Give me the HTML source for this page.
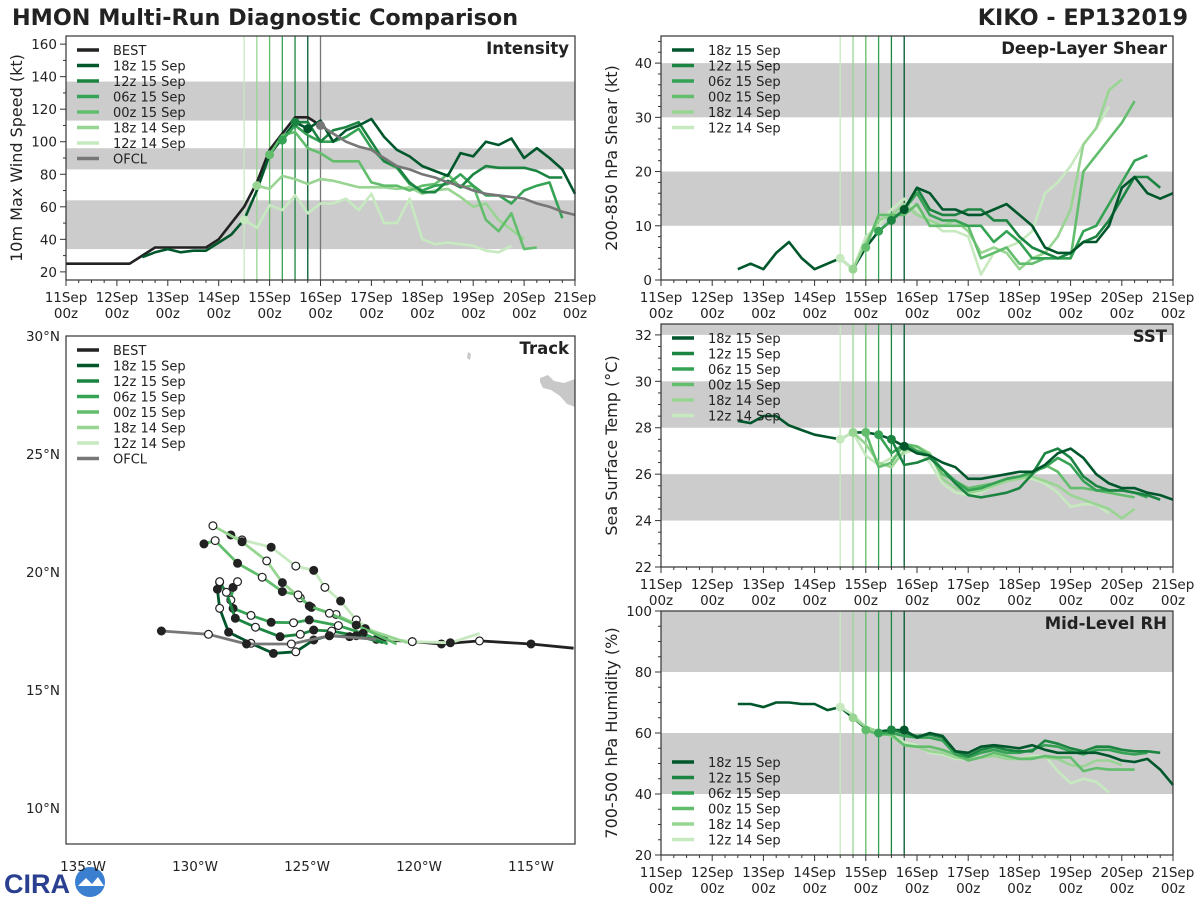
<!DOCTYPE html>
<html><head><meta charset="utf-8"><title>HMON Multi-Run Diagnostic Comparison</title>
<style>
html,body{margin:0;padding:0;background:#fff;}
svg{display:block;font-family:"DejaVu Sans","Liberation Sans",sans-serif;}
</style></head>
<body>
<svg id="chart" width="1200" height="900" viewBox="0 0 1200 900" xmlns="http://www.w3.org/2000/svg">
<text x="12" y="25" font-size="22.3" font-weight="bold" fill="#222">HMON Multi-Run Diagnostic Comparison</text>
<text x="1188" y="25" font-size="22.3" font-weight="bold" fill="#222" text-anchor="end">KIKO - EP132019</text>
<g>
<text x="4" y="893" font-size="27" font-weight="bold" fill="#2a3f8f" font-family="Liberation Sans, sans-serif">CIRA</text>
<circle cx="90" cy="882" r="15" fill="#3a7fd0"/>
<path d="M78 886 L86 878 L92 884 L98 877 L104 886 Z" fill="#fff"/>
</g>
</svg>
<script>
// ---------- DATA ----------
const runLabels = ["18z 15 Sep","12z 15 Sep","06z 15 Sep","00z 15 Sep","18z 14 Sep","12z 14 Sep"];
const runStarts = [4.75,4.5,4.25,4.0,3.75,3.5]; // days since 11Sep 00z
const dayLabels = ["11Sep","12Sep","13Sep","14Sep","15Sep","16Sep","17Sep","18Sep","19Sep","20Sep","21Sep"];
const historyStart = 1.5;
const bestStart = 0;
const ofclStart = 5;

const intBest = [25,25,25,25,25,25,30,35,35,35,35,35,40,50,60,75,95,105,115,115,110];
const intOfcl = [110,105,100,97,95,90,85,83,80,78,75,73,70,68,67,66,65,62,60,57,55];
const intHistory = [29,32,34,32,33,33,38,43,52,70,92,102,112,108];
const int18z15 = [108,113,100,107,110,114,103,95,91,85,82,79,93,91,100,98,102,90,96,90,83,68];
const int12z15 = [112,112,100,107,109,112,100,88,85,75,69,69,76,72,80,85,84,84,84,82,78,78];
const int06z15 = [101,110,104,100,100,103,108,96,88,84,74,70,73,74,80,73,67,67,62,70,73,75,53];
const int00z15 = [92,104,106,96,93,88,88,88,75,73,73,70,73,74,80,72,73,52,45,56,34,35];
const int18z14 = [73,71,79,77,74,77,76,74,72,72,72,71,72,68,70,71,66,60,62,52,46,40];
const int12z14 = [52,47,61,58,67,56,62,62,65,58,68,50,50,65,40,37,38,37,36,33,32,36];

const shrHistory = [2,3,2,5,7,4,2,3,4,2,6,9,11,13];
const shr18z15 = [13,17,16,13,13,12,12,13,14,12,10,6,5,5,7,7,10,17,19,16,15,16];
const shr12z15 = [11,13,17,13,12,12,13,13,11,11,8,6,5,4,5,7,8,11,15,19,19,17];
const shr06z15 = [9,11,13,16,12,11,11,10,10,7,9,7,4,4,4,4,9,10,14,18,22,23];
const shr00z15 = [6,12,12,12,14,10,10,10,10,4,5,6,3,3,4,4,4,20,23,26,29,33];
const shr18z14 = [2,7,11,12,14,12,11,10,11,9,5,6,5,2,4,5,8,13,25,28,35,37];
const shr12z14 = [4,2,8,10,13,15,13,11,9,9,8,1,5,6,7,9,16,18,21,25,28,32];

const sstHistory = [28.3,28.2,28.5,28.5,28.1,27.9,27.7,27.6,27.5,27.8,27.8,27.7,27.5,27.2];
const sst18z15 = [27.2,26.9,26.8,26.5,26.3,25.8,25.8,25.9,26.0,26.1,26.1,26.4,26.9,27.1,26.7,26.0,25.6,25.4,25.4,25.2,25.1,24.9];
const sst12z15 = [27.5,26.4,26.5,26.7,26.2,25.6,25.1,25.0,25.1,25.2,25.4,26.0,26.9,27.1,26.7,25.9,25.5,25.3,25.3,25.2,25.1,24.9];
const sst06z15 = [27.7,26.9,27.3,27.0,26.8,26.2,25.7,25.3,25.4,25.6,25.8,25.9,26.1,26.3,26.7,26.4,25.7,25.3,25.3,25.3,25.2,25.0];
const sst00z15 = [27.8,26.3,26.5,27.3,27.2,26.8,26.0,25.7,25.4,25.5,25.6,25.8,25.9,26.0,26.4,26.1,25.4,25.4,25.3,25.2,25.1,25.0];
const sst18z14 = [27.8,27.3,26.5,26.3,27.0,27.2,26.9,25.8,25.4,25.2,25.3,25.5,25.7,25.8,25.9,25.7,25.5,25.1,24.9,24.7,24.5,24.1,24.5];
const sst12z14 = [27.5,27.8,26.8,26.4,26.7,26.9,27.1,26.5,25.6,25.2,25.1,25.2,25.5,25.7,25.8,25.8,25.6,25.2,24.6,24.7,24.7,24.3];

const rhHistory = [69.5,69.5,68.5,70,70,69.5,69.5,67.5,68.5,65,61.5,60.5,61,61];
const rh18z15 = [61,58.5,60,59,54,53.5,55.5,56,55.5,55,56,54.5,53.5,53.5,53.5,53.5,52.5,51,50.5,51.5,48,43];
const rh12z15 = [61,60,59,59.5,58.5,54,52.5,54.5,55.5,54.5,54,54,57.5,56.5,55,54,55.5,55.5,54.5,54,54,53.5];
const rh06z15 = [60,60,59,58.5,58.5,57.5,53,52,53.5,54.5,53.5,53.5,54.5,56,55.5,54,53,54.5,54.5,53.5,53,53.5];
const rh00z15 = [61,59.5,59.5,56,55.5,55.5,54.5,53,51,52,53.5,52.5,51.5,51.5,52.5,52,52,47.5,48.5,48,48,48];
const rh18z14 = [65,62,60.5,59,56,55.5,54,53.5,52,51.5,52,52.5,51.5,51.5,52,52,51.5,49.5,49,51,51,49.5];
const rh12z14 = [68.5,66,62,60,59.5,57,56,53.5,53,51.5,51.5,52,53,52.5,51.5,52.5,52.5,47.5,43.5,45,44,40.5];

const bestLon = [-113.1,-115.0,-117.3,-119.0,-120.3,-121.9];
const bestLat = [16.77,16.95,17.08,16.95,17.05,17.15];
const ofclLon = [-121.9,-124.0,-125.7,-127.7,-129.4,-131.5];
const ofclLat = [17.15,17.3,16.95,16.95,17.36,17.5];
const trk18z15Lon = [-121.9,-123.1,-124.0,-124.7,-125.5,-126.5,-127.5,-128.5,-128.9,-129.0,-128.9];
const trk18z15Lat = [17.15,17.26,17.3,17.12,16.62,16.55,16.98,17.45,18.46,19.27,19.59];
const trk12z15Lon = [-121.6,-122.8,-123.9,-124.7,-125.3,-126.2,-127.3,-128.2,-128.6,-128.9];
const trk12z15Lat = [17.0,17.3,17.5,17.54,17.36,17.26,17.66,18.04,19.14,19.56];
const trk06z15Lon = [-121.4,-122.5,-123.6,-124.9,-125.6,-126.6,-127.5,-128.3,-128.4,-128.3,-128.1];
const trk06z15Lat = [16.95,17.4,17.73,17.97,17.85,17.87,18.16,18.46,18.81,19.35,19.59];
const trk00z15Lon = [-121.0,-122.8,-124.0,-124.9,-125.4,-126.1,-127.0,-128.1,-129.1,-129.6];
const trk00z15Lat = [16.95,17.75,18.25,18.56,19.03,19.17,19.78,20.37,21.33,21.19];
const trk18z14Lon = [-120.5,-122.4,-123.7,-124.8,-125.3,-126.1,-126.8,-127.9,-129.2];
const trk18z14Lat = [17.0,17.6,18.2,18.5,18.9,19.55,20.47,21.28,21.96];
const trk12z14Lon = [-117.3,-118.6,-120.3,-121.6,-122.8,-123.5,-124.2,-124.7,-125.5,-126.6,-127.9,-128.4];
const trk12z14Lat = [17.4,17.0,17.05,17.2,17.97,18.77,19.35,20.07,20.25,21.05,21.36,21.57];
const lonTicks = [-135,-130,-125,-120,-115];
const latTicks = [10,15,20,25,30];

// ---------- STYLE ----------
const runColors = ["#00572b","#1b8441","#35a254","#62bd6c","#99d592","#c7e9c0"];
const BEST_C = "#222222", OFCL_C = "#777777", BAND = "#cccccc", AX = "#333";
const svg = document.getElementById('chart');
const NS = "http://www.w3.org/2000/svg";
function mk(tag, attrs, parent){ const e=document.createElementNS(NS,tag); for(const k in attrs) e.setAttribute(k,attrs[k]); (parent||svg).appendChild(e); return e; }

function panel(cfg){
  const g = mk('g',{});
  
  
  const xs = d => cfg.x0 + (d/10)*(cfg.x1-cfg.x0);
  const ys = v => cfg.y1 - (v-cfg.ymin)/(cfg.ymax-cfg.ymin)*(cfg.y1-cfg.y0);
  cfg.bands.forEach(b=>{
    const top=Math.max(cfg.y0, ys(b[1])), bot=Math.min(cfg.y1, ys(b[0]));
    const r = mk('rect',{x:cfg.x0,y:top,width:cfg.x1-cfg.x0,height:bot-top,fill:BAND},g);
    
    
  });
  const vl = [];
  for(let i=runStarts.length-1;i>=0;i--) vl.push([runStarts[i], runColors[i]]);
  if(cfg.ofcl) vl.push([ofclStart, OFCL_C]);
  vl.forEach(v=>{
    const l = mk('line',{x1:xs(v[0]),x2:xs(v[0]),y1:cfg.y0,y2:cfg.y1,stroke:v[1],'stroke-width':1.3},g);
    
    
  });
  function series(start, vals, color, w, name, dot){
    const pts = vals.map((v,i)=>xs(start+i*0.25).toFixed(1)+','+ys(v).toFixed(1)).join(' ');
    const p = mk('polyline',{points:pts,fill:'none',stroke:color,'stroke-width':w,'stroke-linejoin':'round'},g);
    
    
    if(dot){ const c = mk('circle',{cx:xs(start),cy:ys(vals[0]),r:4.5,fill:color},g);
      
       }
  }
  if(cfg.best) series(bestStart, cfg.best, BEST_C, 2.6, 'best-line', false);
  if(cfg.history) series(historyStart, cfg.history, runColors[0], 2.6, 'analysis-history-line', false);
  for(let i=runStarts.length-1;i>=0;i--) series(runStarts[i], cfg.runs[i], runColors[i], 2.6, 'run-line-'+runLabels[i].replace(/ /g,'-').toLowerCase(), true);
  if(cfg.ofcl){ series(ofclStart, cfg.ofcl, OFCL_C, 2.6, 'ofcl-line', true); }
  const fr = mk('rect',{x:cfg.x0,y:cfg.y0,width:cfg.x1-cfg.x0,height:cfg.y1-cfg.y0,fill:'none',stroke:AX,'stroke-width':1.2},g);
  
  
  for(let k=0;k<=40;k++){
    const d=k*0.25, x=xs(d), major=(k%4===0);
    mk('line',{x1:x,x2:x,y1:cfg.y1,y2:cfg.y1+(major?6:3),stroke:AX,'stroke-width':1},g);
    if(major){
      const t = mk('text',{x:x,y:cfg.y1+22,'font-size':13.5,'text-anchor':'middle',fill:'#222'},g);
      t.textContent = dayLabels[k/4];
      
      
      const t2 = mk('text',{x:x,y:cfg.y1+38,'font-size':13.5,'text-anchor':'middle',fill:'#222'},g);
      t2.textContent = '00z';
      
      
    }
  }
  for(let v=cfg.ymin0; v<=cfg.ymax+1e-6; v+=cfg.minor){
    const y=ys(v); if(y<cfg.y0-0.5) continue;
    const rv = Math.round(v*100)/100;
    const major = Math.abs(rv/cfg.major - Math.round(rv/cfg.major))<1e-6;
    mk('line',{x1:cfg.x0,x2:cfg.x0-(major?6:3),y1:y,y2:y,stroke:AX,'stroke-width':1},g);
    if(major){
      const t = mk('text',{x:cfg.x0-9,y:y+5,'font-size':13.5,'text-anchor':'end',fill:'#222'},g);
      t.textContent = rv;
      
      
    }
  }
  const cy=(cfg.y0+cfg.y1)/2, lx=cfg.x0-44;
  const yt = mk('text',{x:lx,y:cy,'font-size':16,'text-anchor':'middle',fill:'#222',transform:`rotate(-90 ${lx} ${cy})`},g);
  yt.textContent = cfg.ylabel;
  
  
  const pt = mk('text',{x:cfg.x1-6,y:cfg.y0+18,'font-size':16.5,'font-weight':'bold','text-anchor':'end',fill:'#222'},g);
  pt.textContent = cfg.title;
  
  
  legend(g, cfg.x0+11, cfg.legendY, cfg.legendEntries);
}

function legend(g, x, y, entries){
  const lg = mk('g',{},g);
  
  
  entries.forEach((e,i)=>{
    const yy = y + i*15.5;
    const l = mk('line',{x1:x,x2:x+22,y1:yy,y2:yy,stroke:e[1],'stroke-width':3.5},lg);
    
    
    const t = mk('text',{x:x+36,y:yy+5,'font-size':13,fill:'#222'},lg);
    t.textContent = e[0];
    
    
  });
}

const runEntries = runLabels.map((l,i)=>[l,runColors[i]]);
const fullEntries = [["BEST",BEST_C]].concat(runEntries).concat([["OFCL",OFCL_C]]);

panel({name:'intensity-panel',x0:66,x1:575,y0:36,y1:280,ymin:15,ymax:165,ymin0:20,major:20,minor:10,
  bands:[[34,64],[83,96],[113,137]],best:intBest,history:intHistory,ofcl:intOfcl,
  runs:[int18z15,int12z15,int06z15,int00z15,int18z14,int12z14],
  ylabel:'10m Max Wind Speed (kt)',title:'Intensity',legendY:50,legendEntries:fullEntries});
panel({name:'shear-panel',x0:661,x1:1173,y0:36,y1:280,ymin:0,ymax:45,ymin0:0,major:10,minor:2,
  bands:[[10,20],[30,40]],history:shrHistory,
  runs:[shr18z15,shr12z15,shr06z15,shr00z15,shr18z14,shr12z14],
  ylabel:'200-850 hPa Shear (kt)',title:'Deep-Layer Shear',legendY:50,legendEntries:runEntries});
panel({name:'sst-panel',x0:661,x1:1173,y0:324,y1:567,ymin:22,ymax:32.47,ymin0:22,major:2,minor:0.5,
  bands:[[24,26],[28,30],[32,33]],history:sstHistory,
  runs:[sst18z15,sst12z15,sst06z15,sst00z15,sst18z14,sst12z14],
  ylabel:'Sea Surface Temp (°C)',title:'SST',legendY:338,legendEntries:runEntries});
panel({name:'rh-panel',x0:661,x1:1173,y0:611,y1:855,ymin:20,ymax:100,ymin0:20,major:20,minor:5,
  bands:[[40,60],[80,100]],history:rhHistory,
  runs:[rh18z15,rh12z15,rh06z15,rh00z15,rh18z14,rh12z14],
  ylabel:'700-500 hPa Humidity (%)',title:'Mid-Level RH',legendY:762,legendEntries:runEntries});

// ---------- TRACK ----------
(function(){
  const T={x0:66,x1:575,y0:336,y1:844};
  const g = mk('g',{});
  
  
  const lx = lon => 195 + (lon+130)*22.4;
  const ly = lat => 572 - (lat-20)*23.6;
  const land1 = mk('path',{d:'M468 352 l3 2 l-1 6 l-3 -2 Z',fill:'#c8c8c8'},g);
  
  
  const land2 = mk('path',{d:'M540 378 l8 -3 l6 6 l10 2 l11 -4 l0 28 l-8 -3 l-7 -8 l-9 -6 l-8 -2 l-3 -6 Z',fill:'#c8c8c8'},g);
  
  
  function track(lons, lats, color, name, markers){
    const pts = lons.map((v,i)=>lx(v).toFixed(1)+','+ly(lats[i]).toFixed(1)).join(' ');
    const p = mk('polyline',{points:pts,fill:'none',stroke:color,'stroke-width':2.8,'stroke-linejoin':'round'},g);
    
    
    if(markers){
      lons.forEach((v,i)=>{
        if(i===0) return;
        const c = mk('circle',{cx:lx(v),cy:ly(lats[i]),r:3.9,fill:(i%2? '#222':'#fff'),stroke:'#222','stroke-width':1.2},g);
        
        
      });
    }
  }
  track(bestLon,bestLat,BEST_C,'best-track',true);
  const tl=[[trk12z14Lon,trk12z14Lat],[trk18z14Lon,trk18z14Lat],[trk00z15Lon,trk00z15Lat],[trk06z15Lon,trk06z15Lat],[trk12z15Lon,trk12z15Lat],[trk18z15Lon,trk18z15Lat]];
  tl.forEach((t,j)=>{ const i=5-j; track(t[0],t[1],runColors[i],'track-'+runLabels[i].replace(/ /g,'-').toLowerCase(),true); });
  track(ofclLon,ofclLat,OFCL_C,'ofcl-track',true);
  const fr = mk('rect',{x:T.x0,y:T.y0,width:T.x1-T.x0,height:T.y1-T.y0,fill:'none',stroke:AX,'stroke-width':1.2},g);
  
  
  lonTicks.forEach(v=>{
    const t = mk('text',{x:lx(v),y:871,'font-size':13.5,'text-anchor':'middle',fill:'#222'},g);
    t.textContent = Math.abs(v)+'°W';
    
    
  });
  latTicks.forEach(v=>{
    const t = mk('text',{x:60,y:ly(v)+5,'font-size':13.5,'text-anchor':'end',fill:'#222'},g);
    t.textContent = v+'°N';
    
    
  });
  const pt = mk('text',{x:T.x1-6,y:T.y0+18,'font-size':16.5,'font-weight':'bold','text-anchor':'end',fill:'#222'},g);
  pt.textContent='Track';
  
  
  legend(g, 77, 350, fullEntries);
})();
</script>
</body></html>
